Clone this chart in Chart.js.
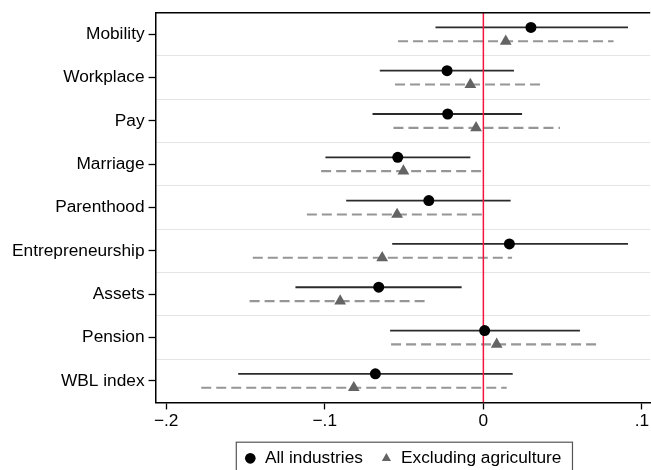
<!DOCTYPE html>
<html>
<head>
<meta charset="utf-8">
<script src="https://cdn.jsdelivr.net/npm/chart.js@4.4.1/dist/chart.umd.min.js"></script>
<style>
  html, body { margin: 0; padding: 0; background: #fff; overflow: hidden; }
  #wrap { width: 657px; height: 477px; position: relative; }
</style>
</head>
<body>
<div id="wrap"><canvas id="coefChart"></canvas></div>
<script>
// Outcome categories, top to bottom
const categories = ["Mobility", "Workplace", "Pay", "Marriage", "Parenthood",
                    "Entrepreneurship", "Assets", "Pension", "WBL index"];

// All industries: point estimate and 95% interval
const allEst = [0.0300, -0.0229, -0.0225, -0.0540, -0.0344, 0.0164, -0.0660, 0.0008, -0.0681];
const allLo  = [-0.0302, -0.0653, -0.0699, -0.0996, -0.0865, -0.0575, -0.1185, -0.0588, -0.1546];
const allHi  = [0.0912, 0.0193, 0.0244, -0.0082, 0.0172, 0.0912, -0.0137, 0.0609, 0.0185];

// Excluding agriculture
const exEst = [0.0141, -0.0082, -0.0046, -0.0504, -0.0544, -0.0638, -0.0903, 0.0084, -0.0817];
const exLo  = [-0.0538, -0.0557, -0.0567, -0.1023, -0.1113, -0.1454, -0.1474, -0.0582, -0.1779];
const exHi  = [0.0821, 0.0370, 0.0483, -0.0004, 0.0000, 0.0181, -0.0361, 0.0727, 0.0147];

// x axis ticks
const xTickValues = [-0.2, -0.1, 0, 0.1];
const xTickLabels = ["\u2212.2", "\u2212.1", "0", ".1"];

const shift = 0.16; // vertical gap between the two series inside a row

// Row positions 1..9, with half steps for the separator lines
const yTicks = [];
for (let v = 0.5; v <= categories.length + 0.5; v += 0.5) yTicks.push({ value: v });

const datasets = [];

// confidence interval segments
categories.forEach((c, i) => {
  datasets.push({
    label: "",
    data: [{ x: allLo[i], y: i + 1 - shift }, { x: allHi[i], y: i + 1 - shift }],
    showLine: true,
    borderColor: "#2b2b2b",
    borderWidth: 1.8,
    pointRadius: 0,
    order: 2
  });
  datasets.push({
    label: "",
    data: [{ x: exLo[i], y: i + 1 + shift }, { x: exHi[i], y: i + 1 + shift }],
    showLine: true,
    borderColor: "#969696",
    borderWidth: 2.1,
    borderDash: [10, 5],
    pointRadius: 0,
    order: 2
  });
});

// zero reference line
datasets.push({
  label: "",
  data: [{ x: 0, y: 0.5 }, { x: 0, y: categories.length + 0.5 }],
  showLine: true,
  borderColor: "#f0143f",
  borderWidth: 1.5,
  pointRadius: 0,
  order: 1
});

// point estimates
datasets.push({
  label: "All industries",
  data: allEst.map((v, i) => ({ x: v, y: i + 1 - shift })),
  pointStyle: "circle",
  pointRadius: 5.5,
  backgroundColor: "#000",
  borderColor: "#000",
  borderWidth: 0,
  order: 0
});
datasets.push({
  label: "Excluding agriculture",
  data: exEst.map((v, i) => ({ x: v, y: i + 1 + shift })),
  pointStyle: "triangle",
  pointRadius: 6.8,
  backgroundColor: "#646464",
  borderColor: "#646464",
  borderWidth: 0,
  order: 0
});

// top frame line and the box around the legend
const framePlugin = {
  id: "framePlugin",
  afterDraw(chart) {
    const ctx = chart.ctx;
    const a = chart.chartArea;
    ctx.save();
    ctx.strokeStyle = "#000";
    ctx.lineWidth = 1.5;
    ctx.beginPath();
    ctx.moveTo(a.left, a.top);
    ctx.lineTo(a.right, a.top);
    ctx.stroke();

    const hb = chart.legend.legendHitBoxes;
    if (hb && hb.length) {
      const first = hb[0], last = hb[hb.length - 1];
      const x1 = first.left - 8;
      const x2 = last.left + last.width + 11;
      const y1 = first.top - 7.5;
      ctx.strokeStyle = "#555";
      ctx.lineWidth = 1.2;
      ctx.strokeRect(x1, y1, x2 - x1, first.height + 30);
    }
    ctx.restore();
  }
};

Chart.defaults.font.family = "'Liberation Sans', Arial, sans-serif";
Chart.defaults.color = "#000";

new Chart(document.getElementById("coefChart"), {
  type: "scatter",
  data: { datasets: datasets },
  options: {
    responsive: true,
    maintainAspectRatio: false,
    animation: false,
    layout: { padding: { left: 8, top: 0, right: 0, bottom: 0 } },
    scales: {
      x: {
        type: "linear",
        min: -0.2067,
        max: 0.1052,
        afterBuildTicks: (s) => { s.ticks = xTickValues.map(v => ({ value: v })); },
        ticks: {
          padding: 1,
          font: { size: 17.3 },
          callback: (v) => xTickLabels[xTickValues.indexOf(v)]
        },
        grid: { drawOnChartArea: false, tickLength: 7, tickColor: "#000", tickWidth: 1.3 },
        border: { color: "#000", width: 1.5 }
      },
      y: {
        type: "linear",
        reverse: true,
        min: 0.5,
        max: categories.length + 0.5,
        afterBuildTicks: (s) => { s.ticks = yTicks.map(t => ({ value: t.value })); },
        ticks: {
          padding: 4,
          font: { size: 17.3, lineHeight: 1 },
          callback: (v) => Number.isInteger(v) ? categories[v - 1] : ""
        },
        grid: {
          tickLength: 7,
          tickWidth: 1.3,
          lineWidth: 1,
          color: (c) => {
            const v = c.tick ? c.tick.value : 0;
            if (Number.isInteger(v) || v === 0.5 || v === categories.length + 0.5) return "rgba(0,0,0,0)";
            return "#e4e4e4";
          },
          tickColor: (c) => (c.tick && Number.isInteger(c.tick.value)) ? "#000" : "rgba(0,0,0,0)"
        },
        border: { color: "#000", width: 1.5 }
      }
    },
    plugins: {
      tooltip: { enabled: false },
      legend: {
        position: "bottom",
        fullSize: false,
        labels: {
          usePointStyle: true,
          boxWidth: 12,
          boxHeight: 7.5,
          padding: 17.5,
          font: { size: 17.3 },
          filter: (item) => item.text !== ""
        }
      }
    }
  },
  plugins: [framePlugin]
});
</script>
</body>
</html>
